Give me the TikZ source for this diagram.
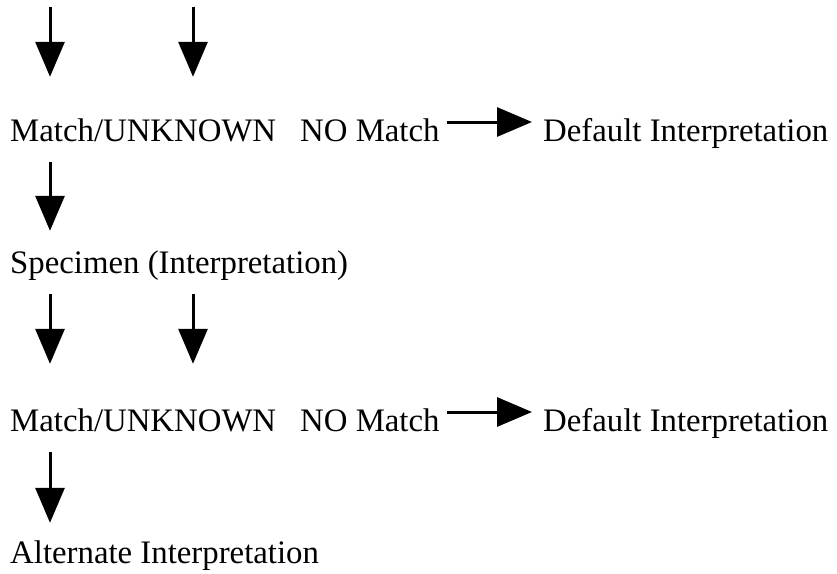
\documentclass[tikz,border=0pt]{standalone}
\usepackage{fontspec}
\setmainfont{Liberation Serif}
\usetikzlibrary{arrows.meta}
\begin{document}
\begin{tikzpicture}[x=1pt,y=-1pt,
  lbl/.style={anchor=base west, inner sep=0pt, font=\fontsize{32.8}{38}\selectfont, text height=22pt, text depth=7pt},
  arr/.style={line width=3pt, -{Triangle[length=35pt,width=29pt]}}]
\useasboundingbox (0,0) rectangle (837,573);
% free ends at top
\coordinate (t1) at (50,7);
\coordinate (t2) at (193,7);
% text nodes
\node[lbl] (m1) at (10,141) {Match/UNKNOWN};
\node[lbl] (n1) at (300,141) {NO Match};
\node[lbl] (d1) at (543,141) {Default Interpretation};
\node[lbl] (s)  at (10,273) {Specimen (Interpretation)};
\node[lbl] (m3) at (10,431) {Match/UNKNOWN};
\node[lbl] (n3) at (300,431) {NO Match};
\node[lbl] (d3) at (543,431) {Default Interpretation};
\node[lbl] (a)  at (10,563) {Alternate Interpretation};
% connectors
\draw[arr, shorten >=42pt] (t1) -- (t1 |- m1.north);
\draw[arr, shorten >=42pt] (t2) -- (t2 |- n1.north);
\draw[arr, shorten <=14pt, shorten >=20pt] (m1.south -| t1) -- (s.north -| t1);
\draw[arr, shorten <=14pt, shorten >=45pt] (s.south -| t1) -- (m3.north -| t1);
\draw[arr, shorten <=14pt, shorten >=45pt] (s.south -| t2) -- (n3.north -| t2);
\draw[arr, shorten <=14pt, shorten >=18pt] (m3.south -| t1) -- (a.north -| t1);
\draw[arr, shorten <=7pt, shorten >=11pt] ([yshift=11.5pt]n1.east) -- ([yshift=11.5pt]d1.west);
\draw[arr, shorten <=7pt, shorten >=11pt] ([yshift=11.5pt]n3.east) -- ([yshift=11.5pt]d3.west);
\end{tikzpicture}
\end{document}
